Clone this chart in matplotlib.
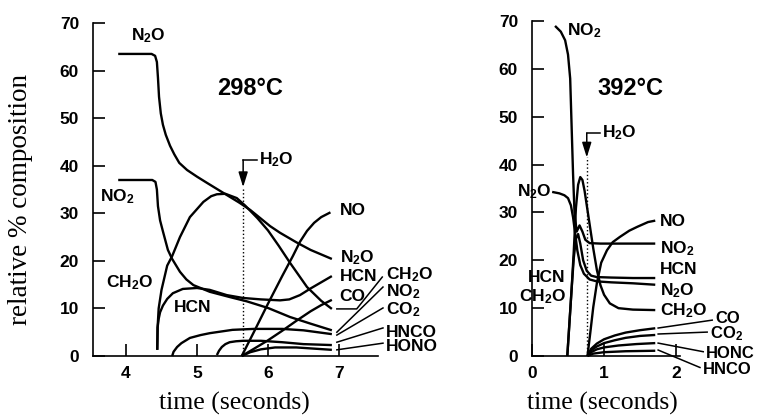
import numpy as np
import matplotlib
matplotlib.use('Agg')
import matplotlib.pyplot as plt

plt.rcParams['font.family'] = 'Liberation Sans'
plt.rcParams['font.weight'] = 'bold'
plt.rcParams['mathtext.fontset'] = 'custom'
plt.rcParams['mathtext.rm'] = 'Liberation Sans:bold'
plt.rcParams['mathtext.bf'] = 'Liberation Sans:bold'
plt.rcParams['mathtext.default'] = 'rm'

# ---- 298 C panel data (time s, relative %) ----
t_n2o_a = [3.89, 4.36, 4.41, 4.435, 4.45, 4.465, 4.49, 4.52, 4.56, 4.62, 4.68, 4.75, 4.86, 5.00, 5.14, 5.37, 5.60, 5.75, 5.89, 6.03, 6.17, 6.40, 6.60, 6.90]
v_n2o_a = [63.5, 63.5, 63.1, 61.8, 58.5, 54.5, 51.0, 48.6, 46.5, 44.2, 42.4, 40.6, 39.1, 37.7, 36.4, 34.3, 32.2, 30.7, 29.0, 27.3, 25.9, 23.9, 22.3, 20.4]
t_no2_a = [3.89, 4.37, 4.415, 4.435, 4.45, 4.48, 4.52, 4.59, 4.65, 4.76, 4.85, 4.95, 5.18, 5.46, 5.70, 6.00, 6.31, 6.60, 6.90]
v_no2_a = [37.0, 37.0, 36.6, 35.0, 31.5, 28.5, 26.2, 22.3, 20.4, 17.7, 16.1, 14.9, 13.5, 12.4, 11.5, 10.1, 8.2, 6.8, 5.4]
t_ch2o_a = [4.44, 4.445, 4.46, 4.50, 4.58, 4.65, 4.76, 4.90, 5.09, 5.20, 5.28, 5.40, 5.56, 5.68, 5.85, 6.00, 6.15, 6.31, 6.55, 6.75, 6.90]
v_ch2o_a = [1.3, 6.0, 10.0, 13.9, 19.0, 21.0, 25.0, 29.2, 32.4, 33.6, 34.0, 34.1, 33.2, 31.6, 29.0, 26.4, 23.2, 19.6, 14.5, 11.6, 9.9]
t_hcn_a = [4.44, 4.445, 4.46, 4.48, 4.52, 4.58, 4.66, 4.80, 5.00, 5.18, 5.42, 5.65, 5.90, 6.17, 6.30, 6.45, 6.60, 6.75, 6.90]
v_hcn_a = [1.3, 6.0, 7.8, 9.2, 10.6, 12.0, 13.2, 14.1, 14.3, 13.9, 12.8, 12.2, 11.9, 11.7, 11.9, 12.8, 14.2, 15.5, 16.8]
t_no_a = [5.63, 5.80, 6.00, 6.20, 6.35, 6.45, 6.55, 6.65, 6.75, 6.88]
v_no_a = [0.0, 5.0, 11.0, 16.8, 21.0, 24.0, 26.3, 28.0, 29.2, 30.2]
t_co_a = [5.63, 5.80, 6.00, 6.20, 6.40, 6.60, 6.75, 6.90]
v_co_a = [0.0, 1.5, 3.3, 5.3, 7.4, 9.4, 10.7, 11.8]
t_co2_a = [4.65, 4.67, 4.72, 4.78, 4.90, 5.05, 5.18, 5.50, 5.80, 6.20, 6.50, 6.70, 6.90]
v_co2_a = [0.0, 0.9, 1.9, 2.7, 3.8, 4.4, 4.8, 5.5, 5.7, 5.7, 5.4, 5.0, 4.6]
t_hnco_a = [5.28, 5.31, 5.35, 5.40, 5.46, 5.55, 5.65, 5.90, 6.20, 6.50, 6.90]
v_hnco_a = [0.2, 1.1, 1.9, 2.5, 2.9, 3.1, 3.2, 3.2, 2.9, 2.5, 2.3]
t_hono_a = [5.63, 5.75, 5.90, 6.10, 6.40, 6.70, 6.90]
v_hono_a = [0.0, 0.8, 1.4, 1.8, 1.8, 1.5, 1.3]
h2o_a = 5.65

# ---- 392 C panel data ----
t_no2_b = [0.32, 0.40, 0.46, 0.50, 0.53, 0.55, 0.57, 0.59, 0.62, 0.66, 0.70, 0.74, 0.80, 0.95, 1.20, 1.71]
v_no2_b = [69.0, 67.8, 66.0, 63.0, 58.0, 48.0, 38.0, 30.0, 26.0, 27.3, 26.0, 24.3, 23.6, 23.5, 23.5, 23.5]
t_n2o_b = [0.28, 0.38, 0.45, 0.50, 0.54, 0.57, 0.60, 0.63, 0.67, 0.72, 0.80, 0.90, 1.10, 1.40, 1.71]
v_n2o_b = [34.3, 34.0, 33.6, 33.0, 31.5, 29.0, 25.5, 22.0, 19.0, 17.2, 16.0, 15.6, 15.4, 15.2, 14.9]
t_hcn_b = [0.49, 0.52, 0.55, 0.58, 0.61, 0.64, 0.67, 0.71, 0.76, 0.82, 0.90, 1.10, 1.40, 1.71]
v_hcn_b = [0.0, 7.0, 14.0, 20.5, 24.5, 25.5, 23.5, 20.0, 17.8, 16.8, 16.5, 16.4, 16.3, 16.3]
t_ch2o_b = [0.49, 0.52, 0.55, 0.58, 0.61, 0.64, 0.67, 0.70, 0.73, 0.76, 0.80, 0.85, 0.90, 0.95, 1.00, 1.08, 1.20, 1.40, 1.71]
v_ch2o_b = [0.0, 7.0, 14.0, 22.0, 31.0, 35.8, 37.4, 36.8, 34.5, 31.5, 27.5, 22.5, 18.0, 14.8, 12.8, 11.0, 10.0, 9.7, 9.6]
t_no_b = [0.77, 0.81, 0.85, 0.90, 0.96, 1.04, 1.12, 1.22, 1.35, 1.46, 1.61, 1.71]
v_no_b = [0.0, 5.0, 10.2, 15.2, 19.5, 22.1, 23.8, 24.9, 26.2, 27.0, 28.0, 28.3]
t_co_b = [0.77, 0.82, 0.90, 1.00, 1.15, 1.30, 1.50, 1.71]
v_co_b = [0.0, 1.5, 2.6, 3.5, 4.3, 4.9, 5.4, 5.8]
t_co2_b = [0.77, 0.82, 0.90, 1.00, 1.15, 1.30, 1.50, 1.71]
v_co2_b = [0.0, 1.2, 2.0, 2.7, 3.3, 3.8, 4.2, 4.4]
t_honc_b = [0.77, 0.82, 0.90, 1.00, 1.20, 1.45, 1.71]
v_honc_b = [0.0, 0.8, 1.4, 1.8, 2.2, 2.5, 2.7]
t_hnco_b = [0.77, 0.85, 1.00, 1.30, 1.71]
v_hnco_b = [0.0, 0.5, 0.8, 1.0, 1.1]
h2o_b = 0.76

fig = plt.figure(figsize=(7.58, 4.16), dpi=100)
ax1 = fig.add_axes([0.1227, 0.1442, 0.376, 0.8005])
ax2 = fig.add_axes([0.7018, 0.1442, 0.195, 0.805])

lw = 1.7
def curve(ax, t, v):
    ax.plot(t, v, color='black', lw=lw, solid_capstyle='butt',
            solid_joinstyle='round', clip_on=False)

for t, v in [(t_n2o_a, v_n2o_a), (t_no2_a, v_no2_a), (t_ch2o_a, v_ch2o_a),
             (t_hcn_a, v_hcn_a), (t_no_a, v_no_a), (t_co_a, v_co_a),
             (t_co2_a, v_co2_a), (t_hnco_a, v_hnco_a), (t_hono_a, v_hono_a)]:
    curve(ax1, t, v)
for t, v in [(t_no2_b, v_no2_b), (t_n2o_b, v_n2o_b), (t_hcn_b, v_hcn_b),
             (t_ch2o_b, v_ch2o_b), (t_no_b, v_no_b), (t_co_b, v_co_b),
             (t_co2_b, v_co2_b), (t_honc_b, v_honc_b), (t_hnco_b, v_hnco_b)]:
    curve(ax2, t, v)

for ax in (ax1, ax2):
    ax.set_ylim(0, 70)
    ax.set_yticks(range(0, 71, 10))
    for s in ('top', 'right'):
        ax.spines[s].set_visible(False)
    for s in ('left', 'bottom'):
        ax.spines[s].set_linewidth(1.2)
    ax.tick_params(direction='in', length=8.5, width=1.2, labelsize=12.5)
    ax.tick_params(axis='y', pad=10)
    ax.tick_params(axis='x', pad=7)

ax1.set_xlim(3.535, 7.55)
ax1.set_xticks([4, 5, 6, 7])
ax2.set_xlim(0, 2.05)
ax2.set_xticks([0, 1, 2])

fs = 12.5
# H2O markers
def h2o_mark(ax, x, y_tip, y_top, x_hook, x_txt):
    ax.plot([x, x], [0, y_tip], ls=':', color='black', lw=1)
    ax.annotate('', xy=(x, y_tip), xytext=(x, y_top),
                arrowprops=dict(arrowstyle='-|>,head_length=0.9,head_width=0.28',
                                color='black', lw=1.1, shrinkA=0, shrinkB=0))
    ax.plot([x, x_hook], [y_top, y_top], color='black', lw=1.1)
    ax.text(x_txt, y_top, 'H$_2$O', fontsize=fs, ha='left', va='center')

h2o_mark(ax1, h2o_a, 35.5, 41.2, 5.85, 5.88)
h2o_mark(ax2, h2o_b, 41.5, 46.6, 0.94, 0.97)

# labels, 298 C
ax1.text(5.75, 56.3, '298°C', fontsize=17, ha='center', va='center')
ax1.text(4.31, 67.3, 'N$_2$O', fontsize=fs, ha='center', va='center')
ax1.text(3.63, 33.5, 'NO$_2$', fontsize=fs, ha='left', va='center')
ax1.text(3.72, 15.4, 'CH$_2$O', fontsize=fs, ha='left', va='center')
ax1.text(4.94, 10.1, 'HCN', fontsize=fs, ha='center', va='center')
ax1.text(7.01, 30.5, 'NO', fontsize=fs, ha='left', va='center')
ax1.text(7.01, 20.7, 'N$_2$O', fontsize=fs, ha='left', va='center')
ax1.text(7.01, 16.8, 'HCN', fontsize=fs, ha='left', va='center')
ax1.text(7.01, 12.6, 'CO', fontsize=fs, ha='left', va='center')

leaders_a = [('CH$_2$O', [6.97, 7.25, 7.61], [9.9, 9.9, 16.6], 17.2),
             ('NO$_2$', [6.97, 7.62], [5.0, 14.5], 13.6),
             ('CO$_2$', [6.97, 7.62], [4.4, 10.1], 9.8),
             ('HNCO', [6.97, 7.62], [2.9, 5.9], 5.0),
             ('HONO', [6.97, 7.62], [1.3, 2.7], 1.9)]
for name, xs, ys, ylab in leaders_a:
    ax1.plot(xs, ys, color='black', lw=1.1, clip_on=False)
    ax1.text(7.66, ylab, name, fontsize=fs, ha='left', va='center')

# labels, 392 C
ax2.text(1.36, 56.0, '392°C', fontsize=17, ha='center', va='center')
ax2.text(0.49, 68.0, 'NO$_2$', fontsize=fs, ha='left', va='center')
ax2.text(0.27, 34.4, 'N$_2$O', fontsize=fs, ha='right', va='center')
ax2.text(0.47, 16.5, 'HCN', fontsize=fs, ha='right', va='center')
ax2.text(0.47, 12.4, 'CH$_2$O', fontsize=fs, ha='right', va='center')
for name, y in [('NO', 28.2), ('NO$_2$', 22.5), ('HCN', 18.0), ('N$_2$O', 13.7), ('CH$_2$O', 9.5)]:
    ax2.text(1.78, y, name, fontsize=fs, ha='left', va='center')

leaders_b = [('CO', [1.75, 2.50], [5.85, 7.5], 7.9),
             ('CO$_2$', [1.75, 2.43], [4.6, 5.0], 4.6),
             ('HONC', [1.75, 2.375], [2.7, 0.9], 0.5),
             ('HNCO', [1.75, 2.33], [1.25, -2.4], -2.8)]
for name, xs, ys, ylab in leaders_b:
    ax2.plot(xs, ys, color='black', lw=1.1, clip_on=False)
    ax2.text(xs[-1] + 0.04, ylab, name, fontsize=12, ha='left', va='center')

# axis titles
fig.text(0.027, 0.52, 'relative % composition', family='Liberation Serif',
         weight='normal', fontsize=19.5, rotation=90, ha='center', va='center')
fig.text(0.309, 0.03, 'time (seconds)', family='Liberation Serif',
         weight='normal', fontsize=18.5, ha='center', va='center')
fig.text(0.795, 0.03, 'time (seconds)', family='Liberation Serif',
         weight='normal', fontsize=18.5, ha='center', va='center')

fig.savefig('out.png', dpi=100)
